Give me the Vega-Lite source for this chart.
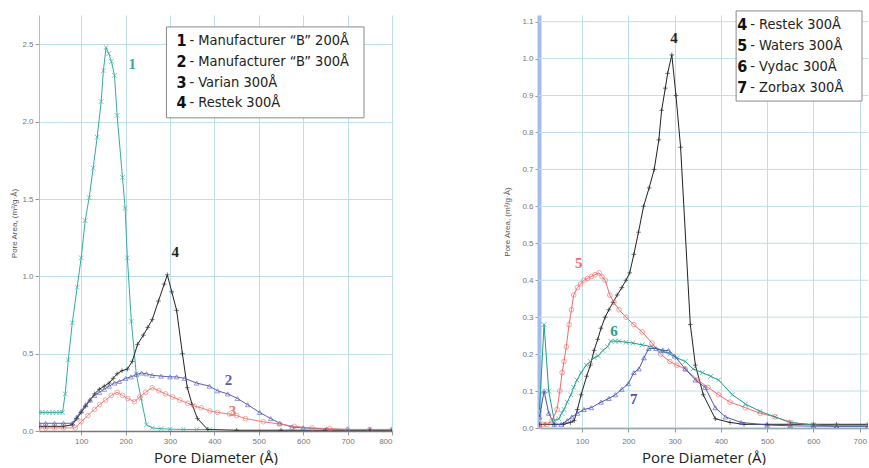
{
  "$schema": "https://vega.github.io/schema/vega-lite/v6.json",
  "padding": {"left": 10, "top": 10, "right": 0, "bottom": 0},
  "bounds": "flush",
  "spacing": 147,
  "resolve": {"scale": {"x": "independent", "y": "independent", "color": "independent", "shape": "independent"}},
  "config": {
    "view": {"stroke": null},
    "axis": {"labelFont": "Liberation Sans", "labelFontSize": 8, "labelColor": "#777", "tickColor": "#999", "tickSize": 4, "labelPadding": 2, "domainColor": "#999", "gridColor": "#bde0e6", "gridWidth": 1, "titleFont": "Liberation Sans", "titleFontWeight": "normal", "labelOverlap": false},
    "axisX": {"titleFont": "Open Sans", "titleFontSize": 15, "titleColor": "#222", "titlePadding": 5, "domainColor": "#777", "domainWidth": 1.5},
    "axisY": {"titleFontSize": 8, "titleColor": "#555", "titlePadding": 3}
  },
  "datasets": {
    "pts": [
      {"p":"L","s":"1","x":5,"y":0.12},{"p":"L","s":"1","x":12,"y":0.12},{"p":"L","s":"1","x":20,"y":0.12},{"p":"L","s":"1","x":28,"y":0.12},{"p":"L","s":"1","x":36,"y":0.12},{"p":"L","s":"1","x":44,"y":0.12},{"p":"L","s":"1","x":52,"y":0.12},{"p":"L","s":"1","x":58,"y":0.12},{"p":"L","s":"1","x":64,"y":0.24},{"p":"L","s":"1","x":71,"y":0.46},{"p":"L","s":"1","x":80,"y":0.70},{"p":"L","s":"1","x":91,"y":0.93},{"p":"L","s":"1","x":100,"y":1.12},{"p":"L","s":"1","x":109,"y":1.36},{"p":"L","s":"1","x":118,"y":1.51},{"p":"L","s":"1","x":127,"y":1.70},{"p":"L","s":"1","x":136,"y":1.90},{"p":"L","s":"1","x":145,"y":2.13},{"p":"L","s":"1","x":150,"y":2.33},{"p":"L","s":"1","x":156,"y":2.48},{"p":"L","s":"1","x":162,"y":2.44},{"p":"L","s":"1","x":168,"y":2.39},{"p":"L","s":"1","x":175,"y":2.30},{"p":"L","s":"1","x":181,"y":2.04},{"p":"L","s":"1","x":193,"y":1.64},{"p":"L","s":"1","x":199,"y":1.44},{"p":"L","s":"1","x":204,"y":1.12},{"p":"L","s":"1","x":213,"y":0.71},{"p":"L","s":"1","x":224,"y":0.37},{"p":"L","s":"1","x":235,"y":0.21},{"p":"L","s":"1","x":247,"y":0.04},{"p":"L","s":"1","x":260,"y":0.02},{"p":"L","s":"1","x":280,"y":0.015},{"p":"L","s":"1","x":300,"y":0.012},{"p":"L","s":"1","x":330,"y":0.01},{"p":"L","s":"1","x":360,"y":0.01},{"p":"L","s":"1","x":390,"y":0.01},
      {"p":"L","s":"4","x":5,"y":0.03},{"p":"L","s":"4","x":20,"y":0.03},{"p":"L","s":"4","x":40,"y":0.03},{"p":"L","s":"4","x":60,"y":0.03},{"p":"L","s":"4","x":80,"y":0.04},{"p":"L","s":"4","x":90,"y":0.08},{"p":"L","s":"4","x":100,"y":0.12},{"p":"L","s":"4","x":110,"y":0.16},{"p":"L","s":"4","x":120,"y":0.2},{"p":"L","s":"4","x":130,"y":0.24},{"p":"L","s":"4","x":141,"y":0.27},{"p":"L","s":"4","x":152,"y":0.29},{"p":"L","s":"4","x":163,"y":0.31},{"p":"L","s":"4","x":172,"y":0.34},{"p":"L","s":"4","x":181,"y":0.37},{"p":"L","s":"4","x":192,"y":0.39},{"p":"L","s":"4","x":204,"y":0.40},{"p":"L","s":"4","x":215,"y":0.45},{"p":"L","s":"4","x":227,"y":0.56},{"p":"L","s":"4","x":240,"y":0.62},{"p":"L","s":"4","x":250,"y":0.67},{"p":"L","s":"4","x":260,"y":0.72},{"p":"L","s":"4","x":274,"y":0.84},{"p":"L","s":"4","x":287,"y":0.95},{"p":"L","s":"4","x":294,"y":1.01},{"p":"L","s":"4","x":304,"y":0.90},{"p":"L","s":"4","x":315,"y":0.78},{"p":"L","s":"4","x":328,"y":0.50},{"p":"L","s":"4","x":339,"y":0.28},{"p":"L","s":"4","x":350,"y":0.17},{"p":"L","s":"4","x":362,"y":0.08},{"p":"L","s":"4","x":385,"y":0.01},{"p":"L","s":"4","x":450,"y":0.005},{"p":"L","s":"4","x":550,"y":0.005},{"p":"L","s":"4","x":650,"y":0.005},{"p":"L","s":"4","x":750,"y":0.005},{"p":"L","s":"4","x":800,"y":0.005},
      {"p":"L","s":"2","x":5,"y":0.05},{"p":"L","s":"2","x":20,"y":0.05},{"p":"L","s":"2","x":40,"y":0.05},{"p":"L","s":"2","x":60,"y":0.05},{"p":"L","s":"2","x":80,"y":0.05},{"p":"L","s":"2","x":90,"y":0.09},{"p":"L","s":"2","x":100,"y":0.13},{"p":"L","s":"2","x":110,"y":0.17},{"p":"L","s":"2","x":120,"y":0.2},{"p":"L","s":"2","x":130,"y":0.23},{"p":"L","s":"2","x":141,"y":0.25},{"p":"L","s":"2","x":152,"y":0.27},{"p":"L","s":"2","x":163,"y":0.29},{"p":"L","s":"2","x":175,"y":0.31},{"p":"L","s":"2","x":186,"y":0.32},{"p":"L","s":"2","x":200,"y":0.34},{"p":"L","s":"2","x":212,"y":0.35},{"p":"L","s":"2","x":224,"y":0.365},{"p":"L","s":"2","x":236,"y":0.375},{"p":"L","s":"2","x":247,"y":0.37},{"p":"L","s":"2","x":260,"y":0.36},{"p":"L","s":"2","x":280,"y":0.355},{"p":"L","s":"2","x":300,"y":0.35},{"p":"L","s":"2","x":315,"y":0.35},{"p":"L","s":"2","x":333,"y":0.34},{"p":"L","s":"2","x":360,"y":0.31},{"p":"L","s":"2","x":389,"y":0.29},{"p":"L","s":"2","x":407,"y":0.26},{"p":"L","s":"2","x":430,"y":0.24},{"p":"L","s":"2","x":452,"y":0.21},{"p":"L","s":"2","x":475,"y":0.17},{"p":"L","s":"2","x":502,"y":0.12},{"p":"L","s":"2","x":527,"y":0.08},{"p":"L","s":"2","x":547,"y":0.05},{"p":"L","s":"2","x":575,"y":0.025},{"p":"L","s":"2","x":600,"y":0.02},{"p":"L","s":"2","x":653,"y":0.013},{"p":"L","s":"2","x":700,"y":0.01},{"p":"L","s":"2","x":750,"y":0.01},{"p":"L","s":"2","x":800,"y":0.01},
      {"p":"L","s":"3","x":5,"y":0.02},{"p":"L","s":"3","x":20,"y":0.02},{"p":"L","s":"3","x":40,"y":0.02},{"p":"L","s":"3","x":60,"y":0.02},{"p":"L","s":"3","x":87,"y":0.02},{"p":"L","s":"3","x":100,"y":0.06},{"p":"L","s":"3","x":115,"y":0.1},{"p":"L","s":"3","x":130,"y":0.14},{"p":"L","s":"3","x":141,"y":0.17},{"p":"L","s":"3","x":155,"y":0.2},{"p":"L","s":"3","x":168,"y":0.23},{"p":"L","s":"3","x":181,"y":0.25},{"p":"L","s":"3","x":193,"y":0.23},{"p":"L","s":"3","x":205,"y":0.21},{"p":"L","s":"3","x":220,"y":0.19},{"p":"L","s":"3","x":232,"y":0.22},{"p":"L","s":"3","x":245,"y":0.25},{"p":"L","s":"3","x":260,"y":0.28},{"p":"L","s":"3","x":275,"y":0.26},{"p":"L","s":"3","x":290,"y":0.24},{"p":"L","s":"3","x":306,"y":0.22},{"p":"L","s":"3","x":322,"y":0.2},{"p":"L","s":"3","x":340,"y":0.18},{"p":"L","s":"3","x":355,"y":0.16},{"p":"L","s":"3","x":370,"y":0.15},{"p":"L","s":"3","x":390,"y":0.13},{"p":"L","s":"3","x":407,"y":0.12},{"p":"L","s":"3","x":434,"y":0.11},{"p":"L","s":"3","x":450,"y":0.1},{"p":"L","s":"3","x":470,"y":0.08},{"p":"L","s":"3","x":510,"y":0.06},{"p":"L","s":"3","x":547,"y":0.045},{"p":"L","s":"3","x":580,"y":0.03},{"p":"L","s":"3","x":620,"y":0.02},{"p":"L","s":"3","x":660,"y":0.015},{"p":"L","s":"3","x":700,"y":0.01},{"p":"L","s":"3","x":750,"y":0.01},{"p":"L","s":"3","x":800,"y":0.01},
      {"p":"R","s":"4","x":8,"y":0.01},{"p":"R","s":"4","x":20,"y":0.01},{"p":"R","s":"4","x":40,"y":0.01},{"p":"R","s":"4","x":60,"y":0.01},{"p":"R","s":"4","x":75,"y":0.015},{"p":"R","s":"4","x":83,"y":0.02},{"p":"R","s":"4","x":90,"y":0.05},{"p":"R","s":"4","x":98,"y":0.09},{"p":"R","s":"4","x":110,"y":0.14},{"p":"R","s":"4","x":118,"y":0.17},{"p":"R","s":"4","x":126,"y":0.21},{"p":"R","s":"4","x":134,"y":0.24},{"p":"R","s":"4","x":141,"y":0.27},{"p":"R","s":"4","x":150,"y":0.3},{"p":"R","s":"4","x":158,"y":0.32},{"p":"R","s":"4","x":167,"y":0.34},{"p":"R","s":"4","x":176,"y":0.36},{"p":"R","s":"4","x":186,"y":0.38},{"p":"R","s":"4","x":195,"y":0.40},{"p":"R","s":"4","x":203,"y":0.42},{"p":"R","s":"4","x":212,"y":0.47},{"p":"R","s":"4","x":222,"y":0.53},{"p":"R","s":"4","x":233,"y":0.60},{"p":"R","s":"4","x":245,"y":0.65},{"p":"R","s":"4","x":256,"y":0.70},{"p":"R","s":"4","x":266,"y":0.78},{"p":"R","s":"4","x":272,"y":0.86},{"p":"R","s":"4","x":280,"y":0.92},{"p":"R","s":"4","x":285,"y":0.96},{"p":"R","s":"4","x":294,"y":1.01},{"p":"R","s":"4","x":303,"y":0.90},{"p":"R","s":"4","x":313,"y":0.76},{"p":"R","s":"4","x":334,"y":0.28},{"p":"R","s":"4","x":345,"y":0.17},{"p":"R","s":"4","x":362,"y":0.09},{"p":"R","s":"4","x":388,"y":0.025},{"p":"R","s":"4","x":420,"y":0.015},{"p":"R","s":"4","x":450,"y":0.01},{"p":"R","s":"4","x":500,"y":0.01},{"p":"R","s":"4","x":550,"y":0.01},{"p":"R","s":"4","x":600,"y":0.01},{"p":"R","s":"4","x":650,"y":0.01},{"p":"R","s":"4","x":718,"y":0.01},
      {"p":"R","s":"5","x":8,"y":0.0},{"p":"R","s":"5","x":15,"y":0.01},{"p":"R","s":"5","x":25,"y":0.01},{"p":"R","s":"5","x":35,"y":0.02},{"p":"R","s":"5","x":46,"y":0.05},{"p":"R","s":"5","x":52,"y":0.1},{"p":"R","s":"5","x":57,"y":0.15},{"p":"R","s":"5","x":61,"y":0.18},{"p":"R","s":"5","x":66,"y":0.22},{"p":"R","s":"5","x":72,"y":0.28},{"p":"R","s":"5","x":77,"y":0.32},{"p":"R","s":"5","x":82,"y":0.36},{"p":"R","s":"5","x":90,"y":0.38},{"p":"R","s":"5","x":97,"y":0.39},{"p":"R","s":"5","x":104,"y":0.40},{"p":"R","s":"5","x":112,"y":0.405},{"p":"R","s":"5","x":120,"y":0.41},{"p":"R","s":"5","x":128,"y":0.415},{"p":"R","s":"5","x":137,"y":0.42},{"p":"R","s":"5","x":143,"y":0.41},{"p":"R","s":"5","x":150,"y":0.40},{"p":"R","s":"5","x":160,"y":0.36},{"p":"R","s":"5","x":169,"y":0.34},{"p":"R","s":"5","x":180,"y":0.32},{"p":"R","s":"5","x":195,"y":0.30},{"p":"R","s":"5","x":212,"y":0.28},{"p":"R","s":"5","x":230,"y":0.26},{"p":"R","s":"5","x":251,"y":0.23},{"p":"R","s":"5","x":270,"y":0.2},{"p":"R","s":"5","x":290,"y":0.18},{"p":"R","s":"5","x":305,"y":0.17},{"p":"R","s":"5","x":323,"y":0.16},{"p":"R","s":"5","x":350,"y":0.13},{"p":"R","s":"5","x":372,"y":0.11},{"p":"R","s":"5","x":395,"y":0.09},{"p":"R","s":"5","x":420,"y":0.07},{"p":"R","s":"5","x":453,"y":0.055},{"p":"R","s":"5","x":485,"y":0.04},{"p":"R","s":"5","x":517,"y":0.03},{"p":"R","s":"5","x":549,"y":0.015},{"p":"R","s":"5","x":600,"y":0.008},{"p":"R","s":"5","x":650,"y":0.005},{"p":"R","s":"5","x":718,"y":0.005},
      {"p":"R","s":"6","x":8,"y":0.05},{"p":"R","s":"6","x":18,"y":0.28},{"p":"R","s":"6","x":28,"y":0.1},{"p":"R","s":"6","x":40,"y":0.02},{"p":"R","s":"6","x":50,"y":0.025},{"p":"R","s":"6","x":56,"y":0.04},{"p":"R","s":"6","x":61,"y":0.05},{"p":"R","s":"6","x":68,"y":0.07},{"p":"R","s":"6","x":76,"y":0.09},{"p":"R","s":"6","x":82,"y":0.11},{"p":"R","s":"6","x":89,"y":0.13},{"p":"R","s":"6","x":98,"y":0.15},{"p":"R","s":"6","x":109,"y":0.17},{"p":"R","s":"6","x":118,"y":0.18},{"p":"R","s":"6","x":126,"y":0.19},{"p":"R","s":"6","x":135,"y":0.195},{"p":"R","s":"6","x":145,"y":0.21},{"p":"R","s":"6","x":155,"y":0.22},{"p":"R","s":"6","x":162,"y":0.235},{"p":"R","s":"6","x":172,"y":0.235},{"p":"R","s":"6","x":180,"y":0.235},{"p":"R","s":"6","x":195,"y":0.232},{"p":"R","s":"6","x":210,"y":0.23},{"p":"R","s":"6","x":230,"y":0.225},{"p":"R","s":"6","x":251,"y":0.22},{"p":"R","s":"6","x":270,"y":0.21},{"p":"R","s":"6","x":290,"y":0.2},{"p":"R","s":"6","x":305,"y":0.19},{"p":"R","s":"6","x":323,"y":0.18},{"p":"R","s":"6","x":340,"y":0.16},{"p":"R","s":"6","x":360,"y":0.15},{"p":"R","s":"6","x":378,"y":0.14},{"p":"R","s":"6","x":395,"y":0.13},{"p":"R","s":"6","x":425,"y":0.09},{"p":"R","s":"6","x":453,"y":0.065},{"p":"R","s":"6","x":485,"y":0.045},{"p":"R","s":"6","x":517,"y":0.03},{"p":"R","s":"6","x":552,"y":0.015},{"p":"R","s":"6","x":600,"y":0.008},{"p":"R","s":"6","x":650,"y":0.005},{"p":"R","s":"6","x":718,"y":0.005},
      {"p":"R","s":"7","x":8,"y":0.03},{"p":"R","s":"7","x":18,"y":0.10},{"p":"R","s":"7","x":28,"y":0.04},{"p":"R","s":"7","x":40,"y":0.01},{"p":"R","s":"7","x":55,"y":0.01},{"p":"R","s":"7","x":68,"y":0.02},{"p":"R","s":"7","x":78,"y":0.03},{"p":"R","s":"7","x":90,"y":0.04},{"p":"R","s":"7","x":104,"y":0.05},{"p":"R","s":"7","x":120,"y":0.055},{"p":"R","s":"7","x":141,"y":0.07},{"p":"R","s":"7","x":158,"y":0.08},{"p":"R","s":"7","x":172,"y":0.09},{"p":"R","s":"7","x":186,"y":0.105},{"p":"R","s":"7","x":200,"y":0.12},{"p":"R","s":"7","x":212,"y":0.15},{"p":"R","s":"7","x":223,"y":0.16},{"p":"R","s":"7","x":234,"y":0.19},{"p":"R","s":"7","x":244,"y":0.215},{"p":"R","s":"7","x":260,"y":0.215},{"p":"R","s":"7","x":275,"y":0.21},{"p":"R","s":"7","x":287,"y":0.21},{"p":"R","s":"7","x":300,"y":0.195},{"p":"R","s":"7","x":323,"y":0.16},{"p":"R","s":"7","x":345,"y":0.13},{"p":"R","s":"7","x":366,"y":0.11},{"p":"R","s":"7","x":388,"y":0.055},{"p":"R","s":"7","x":410,"y":0.03},{"p":"R","s":"7","x":444,"y":0.015},{"p":"R","s":"7","x":500,"y":0.008},{"p":"R","s":"7","x":550,"y":0.006},{"p":"R","s":"7","x":600,"y":0.005},{"p":"R","s":"7","x":650,"y":0.005},{"p":"R","s":"7","x":718,"y":0.005}
    ],
    "tags": [
      {"p":"L","s":"1","x":215,"y":2.37,"t":"1"},{"p":"L","s":"4","x":312,"y":1.16,"t":"4"},{"p":"L","s":"2","x":432,"y":0.33,"t":"2"},{"p":"L","s":"3","x":441,"y":0.13,"t":"3"},
      {"p":"R","s":"4","x":299,"y":1.056,"t":"4"},{"p":"R","s":"5","x":93,"y":0.447,"t":"5"},{"p":"R","s":"6","x":169,"y":0.263,"t":"6"},{"p":"R","s":"7","x":212,"y":0.079,"t":"7"}
    ],
    "boxes": [
      {"p":"L","x":292,"x2":737,"y":2.025,"y2":2.613},
      {"p":"R","x":433,"x2":705,"y":0.885,"y2":1.129}
    ],
    "keys": [
      {"p":"L","n":"1","label":"- Manufacturer “B” 200Å","x":337,"y":2.523},
      {"p":"L","n":"2","label":"- Manufacturer “B” 300Å","x":337,"y":2.387},
      {"p":"L","n":"3","label":"- Varian 300Å","x":337,"y":2.251},
      {"p":"L","n":"4","label":"- Restek 300Å","x":337,"y":2.122},
      {"p":"R","n":"4","label":"- Restek 300Å","x":457,"y":1.091},
      {"p":"R","n":"5","label":"- Waters 300Å","x":457,"y":1.034},
      {"p":"R","n":"6","label":"- Vydac 300Å","x":457,"y":0.977},
      {"p":"R","n":"7","label":"- Zorbax 300Å","x":457,"y":0.920}
    ],
    "rticks": [
      {"v":0},{"v":0.1},{"v":0.2},{"v":0.3},{"v":0.4},{"v":0.5},{"v":0.6},{"v":0.7},{"v":0.8},{"v":0.9},{"v":1.0},{"v":1.1}
    ]
  },
  "hconcat": [
    {
      "width": 353,
      "height": 416,
      "layer": [
        {
          "data": {"name": "pts"},
          "transform": [{"filter": "datum.p === 'L'"}],
          "mark": {"type": "line", "strokeWidth": 1, "clip": true},
          "encoding": {
            "x": {"field": "x", "type": "quantitative", "scale": {"domain": [5, 800], "nice": false, "zero": false},
                  "axis": {"values": [100,200,300,400,500,600,700,800], "title": "Pore Diameter (Å)", "grid": true}},
            "y": {"field": "y", "type": "quantitative", "scale": {"domain": [0, 2.69], "nice": false},
                  "axis": {"values": [0,0.5,1,1.5,2,2.5], "format": ".1f", "title": "Pore Area, (m²/g·Å)", "grid": true, "domainColor": "#bbb"}},
            "color": {"field": "s", "type": "nominal", "scale": {"domain": ["1","2","3","4"], "range": ["#36aaa2","#5a5fb5","#ec7a73","#222222"]}, "legend": null},
            "detail": {"field": "s"}
          }
        },
        {
          "data": {"name": "pts"},
          "transform": [{"filter": "datum.p === 'L'"}],
          "mark": {"type": "point", "filled": false, "strokeWidth": 0.9, "size": 22, "clip": true},
          "encoding": {
            "x": {"field": "x", "type": "quantitative"},
            "y": {"field": "y", "type": "quantitative"},
            "color": {"field": "s", "type": "nominal"},
            "shape": {"field": "s", "type": "nominal", "scale": {"domain": ["1","2","3","4"], "range": ["M-1,-1L1,1M-1,1L1,-1","triangle-up","circle","M-1,0L1,0M0,-1L0,1"]}, "legend": null}
          }
        },
        {
          "data": {"name": "tags"},
          "transform": [{"filter": "datum.p === 'L'"}],
          "mark": {"type": "text", "font": "Liberation Serif", "fontSize": 15, "fontWeight": "bold"},
          "encoding": {
            "x": {"field": "x", "type": "quantitative"},
            "y": {"field": "y", "type": "quantitative"},
            "text": {"field": "t"},
            "color": {"field": "s", "type": "nominal"}
          }
        },
        {
          "data": {"name": "boxes"},
          "transform": [{"filter": "datum.p === 'L'"}],
          "mark": {"type": "rect", "fill": "white", "stroke": "#8a8a8a", "strokeWidth": 1},
          "encoding": {
            "x": {"field": "x", "type": "quantitative"},
            "x2": {"field": "x2"},
            "y": {"field": "y", "type": "quantitative"},
            "y2": {"field": "y2"}
          }
        },
        {
          "data": {"name": "keys"},
          "transform": [{"filter": "datum.p === 'L'"}],
          "mark": {"type": "text", "align": "right", "baseline": "middle", "font": "Liberation Sans Narrow, DejaVu Sans Condensed, Liberation Sans", "fontSize": 16, "fontWeight": "bold", "color": "#111"},
          "encoding": {
            "x": {"field": "x", "type": "quantitative"},
            "y": {"field": "y", "type": "quantitative"},
            "text": {"field": "n"}
          }
        },
        {
          "data": {"name": "keys"},
          "transform": [{"filter": "datum.p === 'L'"}],
          "mark": {"type": "text", "align": "left", "baseline": "middle", "dx": 3, "font": "Liberation Sans Narrow, DejaVu Sans Condensed, Liberation Sans", "fontSize": 14.5, "color": "#222"},
          "encoding": {
            "x": {"field": "x", "type": "quantitative"},
            "y": {"field": "y", "type": "quantitative"},
            "text": {"field": "label"}
          }
        }
      ]
    },
    {
      "width": 329,
      "height": 413,
      "layer": [
        {
          "data": {"name": "rticks"},
          "mark": {"type": "rule", "color": "#bde0e6", "strokeWidth": 1},
          "encoding": {
            "y": {"field": "v", "type": "quantitative", "scale": {"domain": [0, 1.118], "nice": false},
                  "axis": {"values": [0,0.1,0.2,0.3,0.4,0.5,0.6,0.7,0.8,0.9,1.0,1.1], "tickCount": 12, "labelOverlap": false, "format": ".1f", "title": "Pore Area, (m²/g·Å)", "grid": false, "titlePadding": 10, "domainColor": "#a3bde8", "domainWidth": 4}}
          }
        },
        {
          "data": {"name": "pts"},
          "transform": [{"filter": "datum.p === 'R'"}],
          "mark": {"type": "line", "strokeWidth": 1, "clip": true},
          "encoding": {
            "x": {"field": "x", "type": "quantitative", "scale": {"domain": [7, 718], "nice": false, "zero": false},
                  "axis": {"values": [100,200,300,400,500,600,700], "title": "Pore Diameter (Å)", "grid": true, "labelPadding": 5, "labelBound": true}},
            "y": {"field": "y", "type": "quantitative"},
            "color": {"field": "s", "type": "nominal", "scale": {"domain": ["4","5","6","7"], "range": ["#222222","#f06b6b","#1f9e8c","#4b52b8"]}, "legend": null},
            "detail": {"field": "s"}
          }
        },
        {
          "data": {"name": "pts"},
          "transform": [{"filter": "datum.p === 'R'"}],
          "mark": {"type": "point", "filled": false, "strokeWidth": 0.9, "size": 22, "clip": true},
          "encoding": {
            "x": {"field": "x", "type": "quantitative"},
            "y": {"field": "y", "type": "quantitative"},
            "color": {"field": "s", "type": "nominal"},
            "shape": {"field": "s", "type": "nominal", "scale": {"domain": ["4","5","6","7"], "range": ["M-1,0L1,0M0,-1L0,1","circle","M-1,-1L1,1M-1,1L1,-1","triangle-up"]}, "legend": null}
          }
        },
        {
          "data": {"name": "tags"},
          "transform": [{"filter": "datum.p === 'R'"}],
          "mark": {"type": "text", "font": "Liberation Serif", "fontSize": 15, "fontWeight": "bold"},
          "encoding": {
            "x": {"field": "x", "type": "quantitative"},
            "y": {"field": "y", "type": "quantitative"},
            "text": {"field": "t"},
            "color": {"field": "s", "type": "nominal"}
          }
        },
        {
          "data": {"name": "boxes"},
          "transform": [{"filter": "datum.p === 'R'"}],
          "mark": {"type": "rect", "fill": "white", "stroke": "#8a8a8a", "strokeWidth": 1},
          "encoding": {
            "x": {"field": "x", "type": "quantitative"},
            "x2": {"field": "x2"},
            "y": {"field": "y", "type": "quantitative"},
            "y2": {"field": "y2"}
          }
        },
        {
          "data": {"name": "keys"},
          "transform": [{"filter": "datum.p === 'R'"}],
          "mark": {"type": "text", "align": "right", "baseline": "middle", "font": "Liberation Sans Narrow, DejaVu Sans Condensed, Liberation Sans", "fontSize": 16, "fontWeight": "bold", "color": "#111"},
          "encoding": {
            "x": {"field": "x", "type": "quantitative"},
            "y": {"field": "y", "type": "quantitative"},
            "text": {"field": "n"}
          }
        },
        {
          "data": {"name": "keys"},
          "transform": [{"filter": "datum.p === 'R'"}],
          "mark": {"type": "text", "align": "left", "baseline": "middle", "dx": 3, "font": "Liberation Sans Narrow, DejaVu Sans Condensed, Liberation Sans", "fontSize": 14.5, "color": "#222"},
          "encoding": {
            "x": {"field": "x", "type": "quantitative"},
            "y": {"field": "y", "type": "quantitative"},
            "text": {"field": "label"}
          }
        }
      ]
    }
  ]
}
